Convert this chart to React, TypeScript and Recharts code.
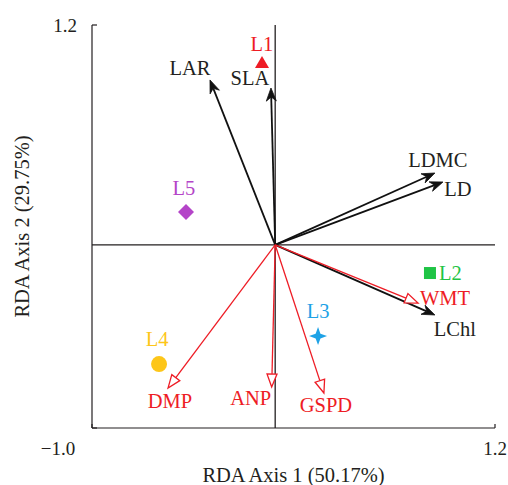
import { ScatterChart, Scatter, XAxis, YAxis, ReferenceLine, Label } from 'recharts';

// RDA biplot: trait / environment arrows + sample sites

const arrowNames = ['LAR', 'SLA', 'LDMC', 'LD', 'LChl', 'WMT', 'DMP', 'ANP', 'GSPD'];
const arrowX = [-0.356, -0.023, 0.872, 0.916, 0.872, 0.78, -0.585, -0.019, 0.266];
const arrowY = [0.9, 0.856, 0.392, 0.343, -0.383, -0.318, -0.782, -0.776, -0.809];
const arrowKind = ['trait', 'trait', 'trait', 'trait', 'trait', 'env', 'env', 'env', 'env'];

const siteNames = ['L1', 'L2', 'L3', 'L4', 'L5'];
const siteX = [-0.072, 0.845, 0.234, -0.634, -0.487];
const siteY = [0.992, -0.154, -0.498, -0.651, 0.179];

const axisTicks = [-1.0, 1.2];

const INK = '#231f20';
const RED = '#ee1c25';
const FONT = '"Liberation Serif", "Times New Roman", serif';
const LABEL_SIZE = 20.5;

// label offsets (px) from arrow tips
const ARROW_LABEL: Record<string, [number, number]> = {
    LAR: [-20, -12],
    SLA: [-21, -10],
    LDMC: [3, -13],
    LD: [15, 7],
    LChl: [20, 14],
    WMT: [27, -5],
    DMP: [2, 13],
    ANP: [-21, 11],
    GSPD: [2, 12],
};

const SITE_STYLE: Record<string, { color: string; marker: string; lx: number; ly: number; anchor: string }> = {
    L1: { color: '#ee1c25', marker: 'triangle', lx: 0, ly: -19, anchor: 'middle' },
    L2: { color: '#1fc445', marker: 'square', lx: 9, ly: 0, anchor: 'start' },
    L3: { color: '#1ea2e6', marker: 'star', lx: 0, ly: -25, anchor: 'middle' },
    L4: { color: '#fdc619', marker: 'circle', lx: -2, ly: -25, anchor: 'middle' },
    L5: { color: '#b444c8', marker: 'diamond', lx: -2, ly: -24, anchor: 'middle' },
};

const arrowShape = (name: string, kind: string) => (props: any) => {
    const { x1, y1, x2, y2 } = props;
    const ang = Math.atan2(y2 - y1, x2 - x1);
    const ux = Math.cos(ang);
    const uy = Math.sin(ang);
    const px = -uy;
    const py = ux;
    const [dx, dy] = ARROW_LABEL[name];
    const isEnv = kind === 'env';
    const color = isEnv ? RED : '#111111';
    const len = 13;
    const hw = 5;
    const bx = x2 - ux * len;
    const by = y2 - uy * len;
    let head;
    let lx2;
    let ly2;
    if (isEnv) {
        lx2 = bx;
        ly2 = by;
        head = (
            <polygon
                points={`${x2},${y2} ${bx + px * hw},${by + py * hw} ${bx - px * hw},${by - py * hw}`}
                fill="#ffffff"
                stroke={color}
                strokeWidth={1.3}
            />
        );
    } else {
        const nx = x2 - ux * (len - 4);
        const ny = y2 - uy * (len - 4);
        lx2 = nx;
        ly2 = ny;
        head = (
            <polygon
                points={`${x2},${y2} ${bx + px * hw},${by + py * hw} ${nx},${ny} ${bx - px * hw},${by - py * hw}`}
                fill={color}
                stroke={color}
                strokeWidth={0.8}
            />
        );
    }
    return (
        <g>
            <line x1={x1} y1={y1} x2={lx2} y2={ly2} stroke={color} strokeWidth={isEnv ? 1.3 : 1.8} />
            {head}
            <text
                x={x2 + dx}
                y={y2 + dy}
                textAnchor="middle"
                dominantBaseline="central"
                fontFamily={FONT}
                fontSize={LABEL_SIZE}
                fill={isEnv ? RED : INK}
            >
                {name}
            </text>
        </g>
    );
};

const siteShape = (name: string) => (props: any) => {
    const { cx, cy } = props;
    const s = SITE_STYLE[name];
    let mark;
    if (s.marker === 'triangle') {
        mark = <polygon points={`${cx},${cy - 7} ${cx - 7},${cy + 5} ${cx + 7},${cy + 5}`} fill={s.color} />;
    } else if (s.marker === 'square') {
        mark = <rect x={cx - 6} y={cy - 6} width={12} height={12} fill={s.color} />;
    } else if (s.marker === 'star') {
        const o = 9;
        const i = 2.4;
        mark = (
            <polygon
                points={`${cx},${cy - o} ${cx + i},${cy - i} ${cx + o},${cy} ${cx + i},${cy + i} ${cx},${cy + o} ${cx - i},${cy + i} ${cx - o},${cy} ${cx - i},${cy - i}`}
                fill={s.color}
            />
        );
    } else if (s.marker === 'circle') {
        mark = <circle cx={cx} cy={cy} r={8} fill={s.color} />;
    } else {
        mark = <polygon points={`${cx},${cy - 8} ${cx + 8},${cy} ${cx},${cy + 8} ${cx - 8},${cy}`} fill={s.color} />;
    }
    return (
        <g>
            {mark}
            <text
                x={cx + s.lx}
                y={cy + s.ly}
                textAnchor={s.anchor as any}
                dominantBaseline="central"
                fontFamily={FONT}
                fontSize={LABEL_SIZE}
                fill={s.color}
            >
                {name}
            </text>
        </g>
    );
};

const fmt = (v: number) => (v < 0 ? '\u2212' + Math.abs(v).toFixed(1) : v.toFixed(1));

const XTick = (props: any) => {
    const { x, y, payload } = props;
    const shift = payload.value < 0 ? -34 : 0;
    return (
        <text x={x + shift} y={y} dy={19} textAnchor="middle" fontFamily={FONT} fontSize={19} fill={INK}>
            {fmt(payload.value)}
        </text>
    );
};

const YTitle = (props: any) => {
    const { viewBox } = props;
    const cx = viewBox.x + 22;
    const cy = viewBox.y + viewBox.height / 2;
    return (
        <text
            x={cx}
            y={cy}
            transform={`rotate(-90, ${cx}, ${cy})`}
            textAnchor="middle"
            dominantBaseline="central"
            fontFamily={FONT}
            fontSize={LABEL_SIZE}
            fill={INK}
        >
            RDA Axis 2 (29.75%)
        </text>
    );
};

export default function App() {
    const sites = siteNames.map((n, i) => ({ name: n, x: siteX[i], y: siteY[i] }));

    return (
        <div style={{ position: 'absolute', left: 0, top: 0, width: 508, height: 485, overflow: 'hidden' }}>
            <ScatterChart width={508} height={485} margin={{ top: 25, right: 13, left: 0, bottom: 0 }}>
                <XAxis
                    type="number"
                    dataKey="x"
                    domain={[-1, 1.2]}
                    ticks={axisTicks}
                    allowDataOverflow
                    height={57}
                    tickSize={-4}
                    tickMargin={12}
                    tick={<XTick />}
                    axisLine={{ stroke: INK, strokeWidth: 1.2 }}
                    tickLine={{ stroke: INK, strokeWidth: 1.2 }}
                >
                    <Label
                        value="RDA Axis 1 (50.17%)"
                        position="insideBottom"
                        offset={3}
                        style={{ fontFamily: FONT, fontSize: LABEL_SIZE, fill: INK }}
                    />
                </XAxis>
                <YAxis
                    type="number"
                    dataKey="y"
                    domain={[-1, 1.2]}
                    ticks={axisTicks}
                    allowDataOverflow
                    width={92}
                    tickSize={-5}
                    tickMargin={20}
                    tickFormatter={(v: number) => (v > 0 ? fmt(v) : '')}
                    tick={{ fontFamily: FONT, fontSize: 19, fill: INK }}
                    axisLine={{ stroke: INK, strokeWidth: 1.2 }}
                    tickLine={{ stroke: INK, strokeWidth: 1.2 }}
                >
                    <Label content={<YTitle />} />
                </YAxis>
                <ReferenceLine x={0} stroke={INK} strokeWidth={1.3} />
                <ReferenceLine y={0} stroke={INK} strokeWidth={1.3} />
                {arrowNames.map((n, i) => (
                    <ReferenceLine
                        key={n}
                        segment={[{ x: 0, y: 0 }, { x: arrowX[i], y: arrowY[i] }]}
                        shape={arrowShape(n, arrowKind[i])}
                    />
                ))}
                {sites.map((s) => (
                    <Scatter key={s.name} data={[s]} shape={siteShape(s.name)} isAnimationActive={false} />
                ))}
            </ScatterChart>
        </div>
    );
}
